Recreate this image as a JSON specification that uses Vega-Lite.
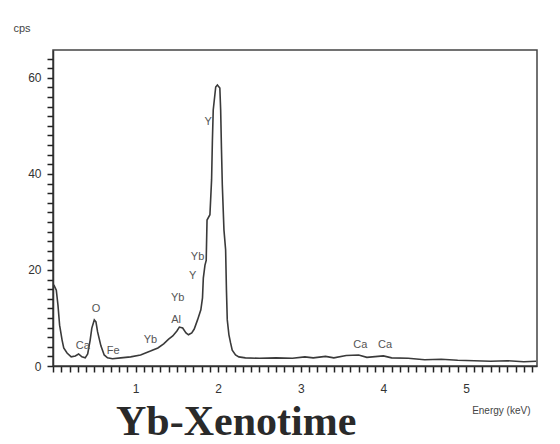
{
  "$schema": "https://vega.github.io/schema/vega-lite/v6.json",
  "width": 484,
  "height": 316,
  "autosize": {"type": "none"},
  "padding": {"left": 53, "top": 50, "right": 23, "bottom": 78},
  "background": "white",
  "config": {
    "view": {"stroke": "#444", "strokeWidth": 1.5},
    "font": "Liberation Sans",
    "axis": {"ticks": true, "tickSize": 6, "tickWidth": 1.5, "tickColor": "#222", "tickOpacity": 1, "zindex": 1, "grid": false}
  },
  "title": {
    "text": "Yb-Xenotime",
    "orient": "bottom",
    "anchor": "start",
    "font": "Liberation Serif",
    "fontSize": 42,
    "fontWeight": "bold",
    "color": "#2a2a2a",
    "dx": 103,
    "dy": -13,
    "offset": 0
  },
  "datasets": {
    "spectrum": [
      {"keV": 0.01, "cps": 16.9}, {"keV": 0.04, "cps": 15.8}, {"keV": 0.06, "cps": 12.7},
      {"keV": 0.08, "cps": 8.5}, {"keV": 0.11, "cps": 5.4}, {"keV": 0.13, "cps": 3.75},
      {"keV": 0.17, "cps": 2.7}, {"keV": 0.22, "cps": 1.9}, {"keV": 0.27, "cps": 2.1},
      {"keV": 0.31, "cps": 2.5}, {"keV": 0.35, "cps": 1.9}, {"keV": 0.39, "cps": 1.7},
      {"keV": 0.42, "cps": 2.5}, {"keV": 0.45, "cps": 5.4}, {"keV": 0.47, "cps": 7.9},
      {"keV": 0.5, "cps": 9.6}, {"keV": 0.52, "cps": 9.2}, {"keV": 0.54, "cps": 7.1},
      {"keV": 0.58, "cps": 4.2}, {"keV": 0.62, "cps": 2.3}, {"keV": 0.66, "cps": 1.7},
      {"keV": 0.72, "cps": 1.5}, {"keV": 0.82, "cps": 1.7}, {"keV": 0.94, "cps": 1.9},
      {"keV": 1.06, "cps": 2.3}, {"keV": 1.18, "cps": 3.1}, {"keV": 1.27, "cps": 3.75},
      {"keV": 1.34, "cps": 4.6}, {"keV": 1.4, "cps": 5.6}, {"keV": 1.45, "cps": 6.25},
      {"keV": 1.5, "cps": 7.3}, {"keV": 1.53, "cps": 8.1}, {"keV": 1.57, "cps": 7.9},
      {"keV": 1.61, "cps": 6.9}, {"keV": 1.64, "cps": 6.5}, {"keV": 1.68, "cps": 6.9},
      {"keV": 1.71, "cps": 7.7}, {"keV": 1.75, "cps": 9.6}, {"keV": 1.79, "cps": 11.7},
      {"keV": 1.81, "cps": 14.2}, {"keV": 1.82, "cps": 18.3}, {"keV": 1.84, "cps": 21},
      {"keV": 1.855, "cps": 22}, {"keV": 1.865, "cps": 30.4}, {"keV": 1.9, "cps": 31.5},
      {"keV": 1.92, "cps": 38.75}, {"keV": 1.93, "cps": 47}, {"keV": 1.94, "cps": 53.3},
      {"keV": 1.97, "cps": 58.1}, {"keV": 1.99, "cps": 58.5}, {"keV": 2.02, "cps": 57.9},
      {"keV": 2.03, "cps": 53.3}, {"keV": 2.04, "cps": 45}, {"keV": 2.05, "cps": 37.7},
      {"keV": 2.07, "cps": 28.3}, {"keV": 2.09, "cps": 24.2}, {"keV": 2.1, "cps": 15.8},
      {"keV": 2.11, "cps": 9.6}, {"keV": 2.13, "cps": 6.5}, {"keV": 2.15, "cps": 4.8},
      {"keV": 2.17, "cps": 3.3}, {"keV": 2.21, "cps": 2.3}, {"keV": 2.25, "cps": 1.9},
      {"keV": 2.33, "cps": 1.7}, {"keV": 2.5, "cps": 1.6}, {"keV": 2.7, "cps": 1.7},
      {"keV": 2.9, "cps": 1.6}, {"keV": 3.05, "cps": 1.9}, {"keV": 3.15, "cps": 1.7},
      {"keV": 3.3, "cps": 2.0}, {"keV": 3.4, "cps": 1.7}, {"keV": 3.55, "cps": 2.2},
      {"keV": 3.7, "cps": 2.3}, {"keV": 3.8, "cps": 1.8}, {"keV": 4.0, "cps": 2.1},
      {"keV": 4.1, "cps": 1.7}, {"keV": 4.3, "cps": 1.6}, {"keV": 4.5, "cps": 1.3},
      {"keV": 4.7, "cps": 1.4}, {"keV": 4.9, "cps": 1.2}, {"keV": 5.1, "cps": 1.1},
      {"keV": 5.3, "cps": 1.0}, {"keV": 5.5, "cps": 1.1}, {"keV": 5.7, "cps": 0.9},
      {"keV": 5.85, "cps": 1.0}
    ],
    "labels": [
      {"keV": 0.36, "cps": 4.2, "label": "Ca"},
      {"keV": 0.52, "cps": 11.9, "label": "O"},
      {"keV": 0.73, "cps": 3.1, "label": "Fe"},
      {"keV": 1.18, "cps": 5.4, "label": "Yb"},
      {"keV": 1.49, "cps": 9.6, "label": "Al"},
      {"keV": 1.51, "cps": 14.2, "label": "Yb"},
      {"keV": 1.69, "cps": 18.75, "label": "Y"},
      {"keV": 1.75, "cps": 22.7, "label": "Yb"},
      {"keV": 1.88, "cps": 50.8, "label": "Y"},
      {"keV": 3.72, "cps": 4.4, "label": "Ca"},
      {"keV": 4.02, "cps": 4.4, "label": "Ca"}
    ]
  },
  "encoding": {
    "x": {
      "field": "keV", "type": "quantitative",
      "scale": {"domain": [0, 5.86], "nice": false},
      "axis": {
        "tickCount": 58,
        "labelExpr": "datum.value > 0.5 && abs(datum.value - round(datum.value)) < 0.001 ? format(datum.value, 'd') : ''",
        "labelOverlap": false,
        "labelFlush": false,
        "domainColor": "#333", "domainWidth": 1.5,
        "labelPadding": 11,
        "labelFontSize": 12, "labelColor": "#333", "labelFont": "Liberation Sans",
        "title": "Energy (keV)",
        "titleFontSize": 10, "titleFontWeight": "normal", "titleColor": "#444",
        "titleAnchor": "end", "titleAlign": "right", "titleBaseline": "bottom",
        "titleX": 477, "titleY": 49
      }
    },
    "y": {
      "field": "cps", "type": "quantitative",
      "scale": {"domain": [0, 65.8], "nice": false},
      "axis": {
        "tickCount": 33,
        "labelExpr": "datum.value % 20 === 0 ? datum.label : ''",
        "labelOverlap": false,
        "labelFlush": false,
        "domainColor": "#333", "domainWidth": 1.5,
        "labelPadding": 6,
        "labelFontSize": 12, "labelColor": "#333", "labelFont": "Liberation Sans",
        "title": "cps",
        "titleFontSize": 11, "titleFontWeight": "normal", "titleColor": "#444",
        "titleAngle": 0, "titleAlign": "left", "titleBaseline": "bottom",
        "titleX": -40, "titleY": -17
      }
    }
  },
  "layer": [
    {
      "data": {"name": "spectrum"},
      "mark": {"type": "line", "color": "#3a3a3a", "strokeWidth": 1.6}
    },
    {
      "data": {"name": "labels"},
      "mark": {"type": "text", "fontSize": 11, "color": "#555", "font": "Liberation Sans", "baseline": "middle", "align": "center"},
      "encoding": {
        "text": {"field": "label"}
      }
    }
  ]
}
